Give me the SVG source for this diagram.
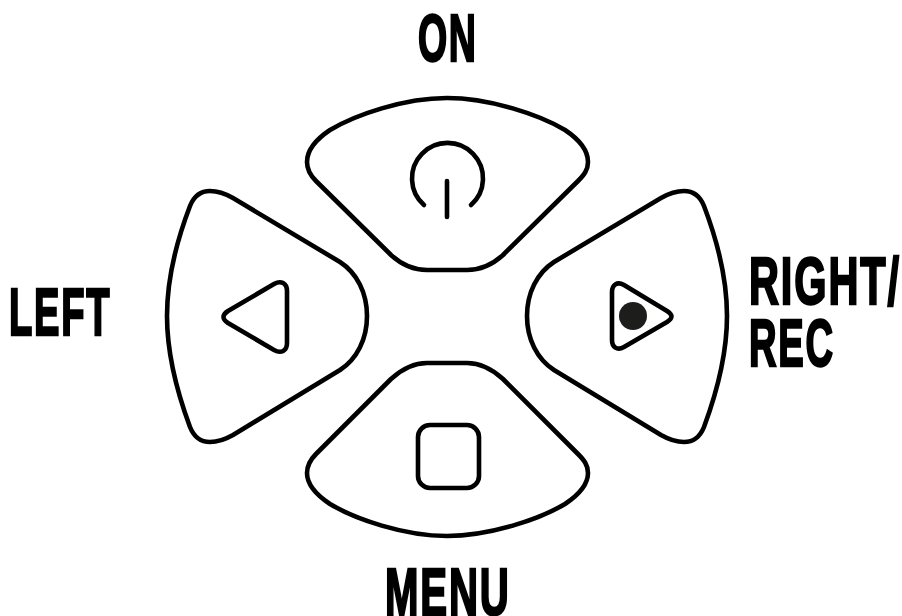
<svg xmlns="http://www.w3.org/2000/svg" width="902" height="616" viewBox="0 0 902 616">
<style>
.b{fill:none;stroke:#000;stroke-width:4.6;stroke-linejoin:round;stroke-linecap:round}
.t{font-family:"Liberation Sans",sans-serif;font-weight:700;fill:#000;stroke:#000;stroke-width:2;vector-effect:non-scaling-stroke;font-size:67px;letter-spacing:3px}
</style>
<defs>
<path id="side" d="M167 316C167 280 177 240 190 206C194 196 201 191 210 191C218 191 226 194 233 198L340 262C357 273 367 293 367 316C367 339 357 359 340 370L233 435C226 439 218 442 210 442C201 442 194 437 190 427C177 392 167 352 167 316Z"/>
</defs>
<rect width="902" height="616" fill="#fff"/>
<g id="btn-on">
<path class="b" d="M447 98C490 98 540 115 565 130C580 140 588 150 588 162C588 170 584 175 578 181L503 255C492 265 480 270 467 270H427C414 270 402 265 391 255L316 181C310 175 307 170 307 162C307 150 315 140 330 130C355 115 404 98 447 98Z"/>
<path class="b" d="M424 205A35.500 35.500 0 1 1 471 205"/>
<path class="b" d="M447 181V217"/>
<text class="t" transform="translate(418 61) scale(.56 1)">ON</text>
</g>
<g id="btn-left">
<use href="#side" class="b"/>
<path class="b" d="M228 311L274 284C281 280 287 283 287 291V343C287 351 281 354 274 350L228 323C222 319 222 315 228 311Z"/>
<text class="t" transform="translate(9 335) scale(.57 1)">LEFT</text>
</g>
<g id="btn-right">
<use href="#side" class="b" transform="matrix(-1 0 0 1 894 0)"/>
<path class="b" d="M667 311L624 285C617 281 612 285 612 292V340C612 347 617 351 624 347L667 322C673 318 673 315 667 311Z"/>
<circle cx="633" cy="316" r="14" fill="#1d1d1b"/>
<text class="t" transform="translate(749 304) scale(.62 1)">RIGHT/</text>
<text class="t" transform="translate(749 366) scale(.57 1)">REC</text>
</g>
<g id="btn-menu">
<path class="b" d="M447 536C490 536 540 519 565 504C580 494 588 484 588 473C588 465 584 460 578 454L503 379C492 369 480 363 467 363H427C414 363 402 369 391 379L316 454C310 460 307 465 307 473C307 484 315 494 330 504C355 519 404 536 447 536Z"/>
<rect class="b" x="418" y="425" width="61" height="63" rx="12"/>
<text class="t" transform="translate(385 615) scale(.6 1)">MENU</text>
</g>
<g id="connectors"></g>
</svg>
